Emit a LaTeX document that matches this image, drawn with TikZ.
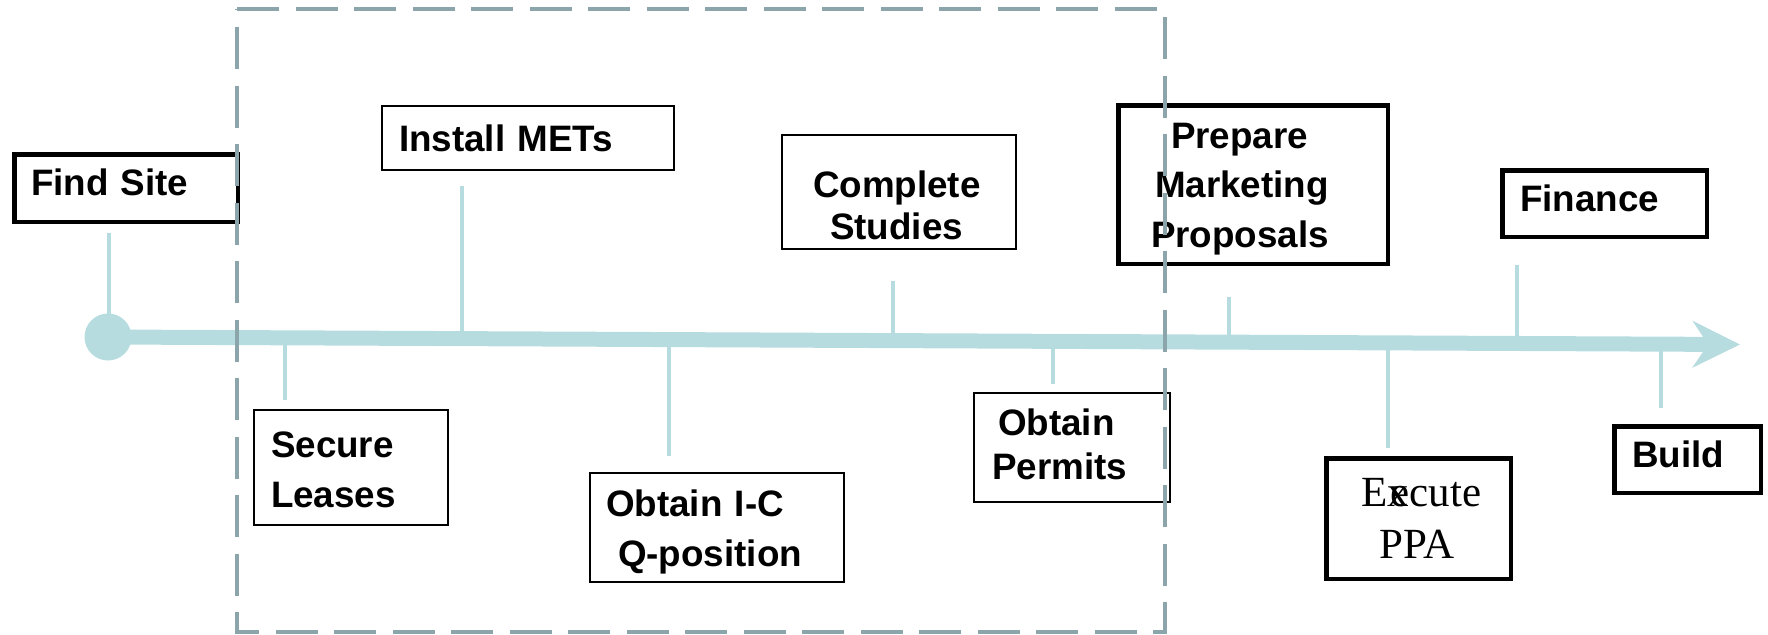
\documentclass[tikz,border=0pt]{standalone}
\usepackage{fontspec}
\newfontfamily\sansf{Liberation Sans}
\newfontfamily\seriff{Liberation Serif}
\usetikzlibrary{arrows.meta}
\definecolor{tl}{RGB}{182,220,223}
\definecolor{dsh}{RGB}{140,165,170}
\newcommand\ts[1]{\rule{0pt}{#1pt}}
\newcommand\bs[1]{\rule[-#1pt]{0pt}{#1pt}}
\newcommand\ind[1]{\hspace*{#1pt}}
\begin{document}
\begin{tikzpicture}[x=1pt,y=-1pt,
  tbox/.style={draw=black, inner sep=0pt, align=left, fill=white,
    font=\sansf\bfseries\fontsize{36.8pt}{#1pt}\selectfont},
  thinb/.style={tbox=#1, line width=1.8pt},
  thickb/.style={tbox=#1, line width=4.5pt},
  serifb/.style={draw=black, inner sep=0pt, align=left, fill=white, line width=4.5pt,
    font=\seriff\fontsize{43pt}{#1pt}\selectfont},
  tick/.style={draw=tl, line width=3.5pt},
  shaft/.style={draw=tl, line width=15pt, -{Stealth[length=47pt,width=46pt,inset=15pt,fill=tl]}},
  dashbox/.style={draw=dsh, line width=4.5pt, dash pattern=on 42pt off 16.5pt}]
\useasboundingbox (0,0) rectangle (1768,634);

% boxes
\node[thickb=44, minimum width=223.5pt, minimum height=67.5pt, text width=190pt] (find) at (126,188) {\ts{30}Find Site\bs{16}};
\node[thinb=44, minimum width=292pt, minimum height=64pt, text width=258pt] (mets) at (528,138) {\ts{36}Install METs\bs{10}};
\node[thinb=50, minimum width=194pt, minimum height=115pt, text width=160pt] (leases) at (351,467.5) {\ts{40}Secure\\Leases\bs{10}};
\node[thinb=50, minimum width=254pt, minimum height=109pt, text width=222pt] (icq) at (717,527.5) {\ts{37}Obtain I-C\\\ind{12}Q-position\bs{10}};
\node[thinb=42, minimum width=234pt, minimum height=108pt, text width=172pt] (studies) at (899,192) {\ts{62}Complete\\\ind{17}Studies\bs{10}};
\node[thinb=44, minimum width=196pt, minimum height=109pt, text width=160pt] (permits) at (1072,447.5) {\ind{6}\ts{30}Obtain\\Permits\bs{11}};
\node[thickb=49.5, minimum width=269.5pt, minimum height=158.5pt, text width=204pt] (prepare) at (1253,184.5) {\ind{20}\ts{36}Prepare\\\ind{4}Marketing\\Proposals\bs{10}};
\node[thickb=44, minimum width=204.5pt, minimum height=66.5pt, text width=169pt] (finance) at (1604.5,203.5) {\ts{30}Finance\bs{15}};
\node[serifb=52, minimum width=184.5pt, minimum height=120.5pt, text width=170pt] (ppa) at (1418.5,518.5) {\ind{28}\ts{38.5}E\rlap{x}\kern3pt ecute\\\ind{46}PPA\bs{10}};
\node[thickb=44, minimum width=146.5pt, minimum height=66.5pt, text width=111pt] (build) at (1687.5,459.5) {\ts{30}Build\bs{15}};

% timeline
\node[circle, fill=tl, minimum size=47pt, inner sep=0pt] (start) at (108,337) {};
\coordinate (end) at (1740,344.5);
\draw[shaft] (start.center) -- (end);

% ticks
\coordinate (k1) at (109,233);
\coordinate (k2) at (462,186);
\coordinate (k3) at (285,400);
\coordinate (k4) at (669,456);
\coordinate (k5) at (893,281);
\coordinate (k6) at (1053,384);
\coordinate (k7) at (1229,297);
\coordinate (k8) at (1388,448);
\coordinate (k9) at (1517,265);
\coordinate (k10) at (1661,408);
\foreach \k in {k1,k2,k3,k4,k5,k6,k7,k8,k9,k10}
  \draw[tick] (\k) -- (\k |- start.center);

% phase frame
\draw[dashbox] (237,9) -- (1165,9) -- (1165,632) -- (237,632) -- cycle;
\end{tikzpicture}
\end{document}
